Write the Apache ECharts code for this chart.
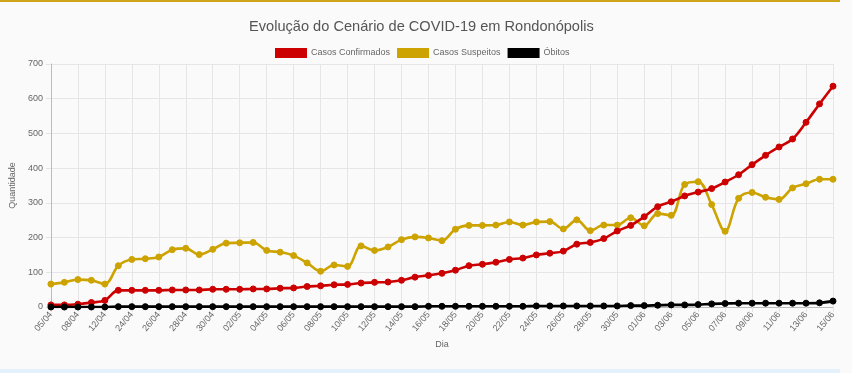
<!DOCTYPE html>
<html>
<head>
<meta charset="utf-8">
<script src="https://cdn.jsdelivr.net/npm/echarts@6/dist/echarts.min.js"></script>
<style>
html,body{margin:0;padding:0;background:#fafafa;}
#chart{width:852px;height:373px;}
</style>
</head>
<body>
<div id="chart"></div>
<script>
const categories = ['05/04','06/04','08/04','10/04','12/04','17/04',
'24/04','25/04','26/04','27/04','28/04','29/04','30/04',
'01/05','02/05','03/05','04/05','05/05','06/05','07/05','08/05','09/05','10/05',
'11/05','12/05','13/05','14/05','15/05','16/05','17/05','18/05','19/05','20/05',
'21/05','22/05','23/05','24/05','25/05','26/05','27/05','28/05','29/05','30/05','31/05',
'01/06','02/06','03/06','04/06','05/06','06/06','07/06','08/06','09/06','10/06',
'11/06','12/06','13/06','14/06','15/06'];

const confirmados = [6,6,8,13,19,48,48,48,48,49,49,49,51,51,51,52,52,54,55,59,61,64,65,69,71,72,77,86,91,97,
106,119,123,129,137,141,150,155,161,181,186,197,219,235,260,289,303,320,331,341,360,381,410,437,461,484,532,585,636];

const suspeitos = [66,71,79,77,66,119,137,139,144,165,169,151,166,184,185,186,163,158,148,127,103,121,117,176,163,173,194,202,199,191,
224,235,235,236,245,236,245,246,225,251,220,236,236,257,234,269,264,353,361,295,218,313,330,316,310,343,355,368,368];

const obitos = [0,0,0,0,0,1,1,1,1,1,1,1,1,1,1,1,1,1,1,1,1,1,1,1,1,1,1,1,2,2,
2,2,2,2,2,2,3,3,3,3,3,3,3,4,4,5,6,6,7,9,10,11,11,11,11,11,11,12,17];

const yTicks = {min:0, max:700, interval:100};

const chart = echarts.init(document.getElementById('chart'), null, {renderer:'canvas'});
const font = "'Liberation Sans', Arial, sans-serif";
function line(name, data, color, z){
  return {
    name, type:'line', data, smooth:0.35, z,
    symbol:'circle', symbolSize:6,
    lineStyle:{color, width:2.6},
    itemStyle:{color, borderColor:color},
    emphasis:{disabled:true}
  };
}
chart.setOption({
  backgroundColor:'#fafafa',
  animation:false,
  textStyle:{fontFamily:font},
  title:{
    text:'Evolução do Cenário de COVID-19 em Rondonópolis',
    left:249, top:19, padding:0,
    textStyle:{fontSize:14.6, fontWeight:'normal', color:'#555', fontFamily:font}
  },
  legend:{
    left:275, top:48, padding:0,
    icon:'rect', itemWidth:32, itemHeight:10, itemGap:7,
    textStyle:{fontSize:9, color:'#666', fontFamily:font, padding:[0,0,0,-1]},
    data:['Casos Confirmados','Casos Suspeitos','Óbitos']
  },
  grid:{left:48, right:19, top:64, bottom:66},
  xAxis:{
    type:'category', data:categories, boundaryGap:false,
    name:'Dia', nameLocation:'middle', nameGap:33,
    nameTextStyle:{fontSize:9, color:'#666'},
    axisLine:{lineStyle:{color:'#bbb', width:1}},
    axisTick:{show:true, interval:1, length:5, lineStyle:{color:'#e3e3e3'}},
    axisLabel:{interval:1, rotate:50, fontSize:9, color:'#666', margin:6},
    splitLine:{show:true, interval:1, lineStyle:{color:'#e6e6e6', width:1}}
  },
  yAxis:{
    type:'value', min:yTicks.min, max:yTicks.max, interval:yTicks.interval,
    name:'Quantidade', nameLocation:'middle', nameGap:31,
    nameTextStyle:{fontSize:9, color:'#666'},
    axisLine:{show:true, lineStyle:{color:'#bbb', width:1}},
    axisTick:{show:true, length:5, lineStyle:{color:'#e3e3e3'}},
    axisLabel:{fontSize:9, color:'#666', margin:8},
    splitLine:{show:true, lineStyle:{color:'#e6e6e6', width:1}}
  },
  graphic:[
    {type:'rect', left:0, top:0, shape:{width:840, height:2}, style:{fill:'#cfa31a'}, silent:true},
    {type:'rect', left:0, top:369, shape:{width:840, height:4}, style:{fill:'#e4f1fb'}, silent:true}
  ],
  series:[
    line('Casos Confirmados', confirmados, '#cc0000', 4),
    line('Casos Suspeitos', suspeitos, '#cca300', 3),
    line('Óbitos', obitos, '#000000', 5)
  ]
});
</script>
</body>
</html>
